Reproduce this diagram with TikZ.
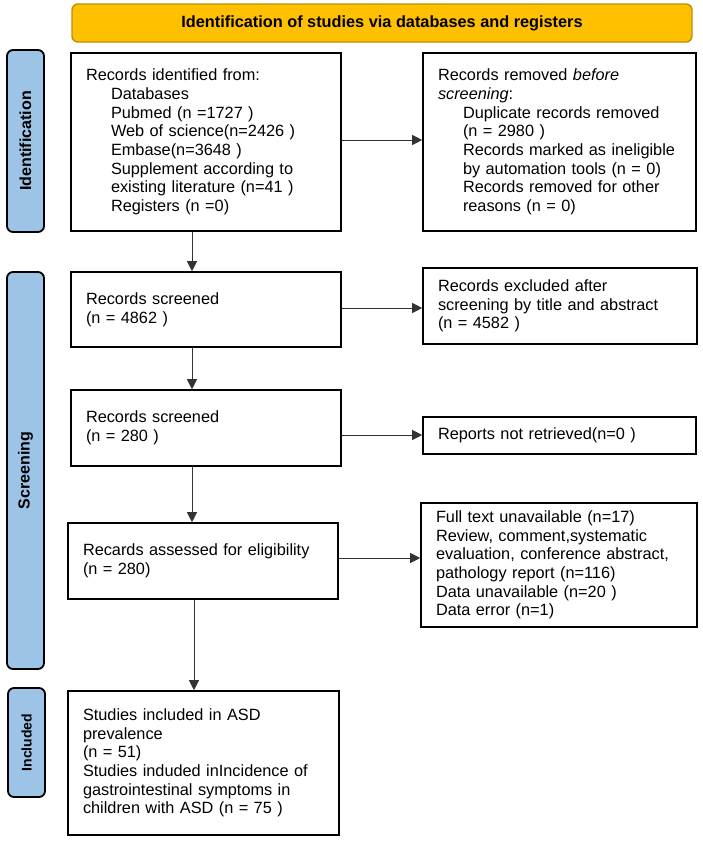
\documentclass[tikz,border=0pt]{standalone}
\usepackage{fontspec}
\setmainfont{Liberation Sans}
\usetikzlibrary{arrows.meta}
\definecolor{bannerfill}{HTML}{FFC000}
\definecolor{bannerline}{HTML}{BF9000}
\definecolor{labfill}{HTML}{9DC3E6}
\newcommand{\ind}{\hspace*{25pt}}
\begin{document}
\begin{tikzpicture}[x=1pt,y=-1pt,
  box/.style={draw=black, line width=1.6pt, inner xsep=15pt, inner ysep=0pt,
    align=left, font=\fontsize{16.3}{18.7}\selectfont, anchor=center},
  sidelab/.style={draw=black, line width=1.8pt, fill=labfill, rounded corners=6pt,
    inner sep=0pt, font=\fontsize{16}{18}\bfseries\selectfont, anchor=center},
  banner/.style={draw=bannerline, line width=1.4pt, fill=bannerfill, rounded corners=6pt,
    inner sep=0pt, font=\fontsize{16.3}{18}\bfseries\selectfont, anchor=center},
  arr/.style={line width=1pt, draw=black!80, -{Triangle[length=10pt,width=10pt]}}
]
\useasboundingbox (0,0) rectangle (702,841);
\fill[white] (0,0) rectangle (702,841);

% banner
\node[banner, minimum width=620pt, minimum height=38pt] (ban) at (382,23)
  {Identification of studies via databases and registers};

% side labels
\node[sidelab, minimum width=37pt, minimum height=182pt] (lid) at (25.5,141)
  {\rotatebox{90}{Identification}};
\node[sidelab, minimum width=37pt, minimum height=397pt] (lsc) at (25.5,470.5)
  {\rotatebox{90}{Screening}};
\node[sidelab, minimum width=37pt, minimum height=109pt,
  font=\fontsize{14}{16}\bfseries\selectfont] (lin) at (26.5,742.5)
  {\rotatebox{90}{Included}};

% boxes
\node[box, text width=240pt, minimum height=178pt] (b1) at (206,142)
  {Records identified from:\\
   \ind Databases\\
   \ind Pubmed (n =1727 )\\
   \ind Web of science(n=2426 )\\
   \ind Embase(n=3648 )\\
   \ind Supplement according to\\
   \ind existing literature (n=41 )\\
   \ind Registers (n =0)};
\node[box, text width=243pt, minimum height=178pt] (b2) at (559.5,142)
  {Records removed \textit{before}\\
   \textit{screening}:\\
   \ind Duplicate records removed\\
   \ind (n = 2980 )\\
   \ind Records marked as ineligible\\
   \ind by automation tools (n = 0)\\
   \ind Records removed for other\\
   \ind reasons (n = 0)};
\node[box, text width=240pt, minimum height=75pt] (b3) at (206,309.5)
  {Records screened\\(n = 4862 )};
\node[box, text width=244pt, minimum height=76pt] (b4) at (560,306)
  {Records excluded after\\screening by title and abstract\\(n = 4582 )};
\node[box, text width=240pt, minimum height=76pt] (b5) at (206,428)
  {Records screened\\(n = 280 )};
\node[box, text width=243pt, minimum height=37pt] (b6) at (559.5,435.5)
  {Reports not retrieved(n=0 )};
\node[box, text width=240pt, minimum height=76pt] (b7) at (203,561)
  {Recards assessed for eligibility\\(n = 280)};
\node[box, text width=246pt, minimum height=124pt] (b8) at (559,565)
  {Full text unavailable (n=17)\\
   Review, comment,systematic\\
   evaluation, conference abstract,\\
   pathology report (n=116)\\
   Data unavailable (n=20 )\\
   Data error (n=1)};
\node[box, text width=241pt, minimum height=144pt] (b9) at (203.5,763)
  {Studies included in ASD\\
   prevalence\\
   (n = 51)\\
   Studies induded inIncidence of\\
   gastrointestinal symptoms in\\
   children with ASD (n = 75 )};

% helper coordinates
\coordinate (ax1) at (192,0);
\coordinate (ax2) at (194,0);
\coordinate (ay1) at (0,140);
\coordinate (ay2) at (0,308);
\coordinate (ay3) at (0,435);
\coordinate (ay4) at (0,558);

% vertical arrows
\draw[arr] (b1.south -| ax1) -- (b3.north -| ax1);
\draw[arr] (b3.south -| ax1) -- (b5.north -| ax1);
\draw[arr] (b5.south -| ax1) -- (b7.north -| ax1);
\draw[arr] (b7.south -| ax2) -- (b9.north -| ax2);

% horizontal arrows
\draw[arr] (b1.east |- ay1) -- (b2.west |- ay1);
\draw[arr] (b3.east |- ay2) -- (b4.west |- ay2);
\draw[arr] (b5.east |- ay3) -- (b6.west |- ay3);
\draw[arr] (b7.east |- ay4) -- (b8.west |- ay4);
\end{tikzpicture}
\end{document}
